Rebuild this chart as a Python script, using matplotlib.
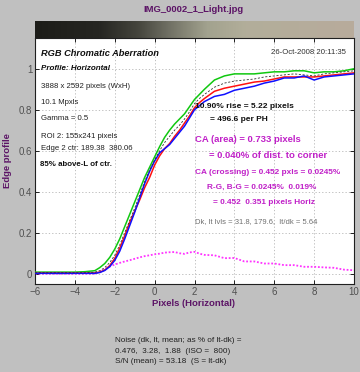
import numpy as np
import matplotlib
matplotlib.use("Agg")
import matplotlib.pyplot as plt
from matplotlib.colors import LinearSegmentedColormap

plt.rcParams['font.family'] = ['Liberation Sans', 'DejaVu Sans']

# ---- data ----
x = [-6, -5, -4, -3.5,
     -3, -2.75, -2.5, -2.25, -2, -1.75, -1.5, -1.25, -1, -0.75, -0.5, -0.25,
     0, 0.25, 0.5, 0.75, 1, 1.25, 1.5, 1.75, 2, 2.25, 2.5,
     3, 3.5, 4, 4.5, 5, 5.5, 6, 6.5, 7, 7.5, 8, 8.5, 9, 9.5, 10]

green = [0.008, 0.008, 0.008, 0.010,
         0.015, 0.03, 0.05, 0.08, 0.12, 0.17, 0.23, 0.29, 0.35, 0.41, 0.47, 0.52,
         0.57, 0.62, 0.665, 0.70, 0.73, 0.755, 0.78, 0.815, 0.85, 0.875, 0.90,
         0.945, 0.965, 0.975, 0.975, 0.975, 0.98, 0.985, 0.985, 0.99, 0.99, 0.98, 0.985, 0.985, 0.99, 1.0]

red = [0.003, 0.003, 0.003, 0.003,
       0.004, 0.008, 0.018, 0.04, 0.075, 0.125, 0.185, 0.25, 0.305, 0.36, 0.42, 0.47,
       0.53, 0.575, 0.61, 0.635, 0.67, 0.70, 0.735, 0.77, 0.81, 0.835, 0.855,
       0.89, 0.905, 0.915, 0.925, 0.935, 0.94, 0.95, 0.96, 0.96, 0.96, 0.96, 0.965, 0.97, 0.975, 0.98]

blue = [0.002, 0.002, 0.002, 0.002,
        0.002, 0.006, 0.016, 0.035, 0.065, 0.11, 0.17, 0.235, 0.30, 0.37, 0.44, 0.50,
        0.55, 0.59, 0.61, 0.63, 0.66, 0.69, 0.72, 0.76, 0.80, 0.82, 0.84,
        0.865, 0.875, 0.895, 0.905, 0.915, 0.93, 0.94, 0.955, 0.955, 0.965, 0.945, 0.96, 0.965, 0.97, 0.975]

mean_lum = [0.005, 0.005, 0.005, 0.005,
            0.008, 0.015, 0.03, 0.055, 0.09, 0.14, 0.20, 0.26, 0.32, 0.385, 0.45, 0.505,
            0.555, 0.60, 0.64, 0.67, 0.70, 0.725, 0.755, 0.79, 0.83, 0.855, 0.875,
            0.91, 0.93, 0.94, 0.945, 0.95, 0.96, 0.965, 0.97, 0.975, 0.97, 0.965, 0.975, 0.98, 0.985, 0.99]

diff = [0.0, 0.0, 0.0, 0.0,
        0.0, 0.01, 0.022, 0.035, 0.045, 0.053, 0.06, 0.066, 0.073, 0.08, 0.086, 0.09,
        0.095, 0.098, 0.103, 0.105, 0.106, 0.10, 0.097, 0.104, 0.107, 0.098, 0.092,
        0.09, 0.076, 0.077, 0.06, 0.06, 0.05, 0.05, 0.042, 0.042, 0.034, 0.034, 0.031, 0.029, 0.02, 0.017]

x_ticks = [-6, -4, -2, 0, 2, 4, 6, 8, 10]
y_ticks = [0, 0.2, 0.4, 0.6, 0.8, 1.0]
y_ticklabels = ['0', '0.2', '0.4', '0.6', '0.8', '1']

# gradient strip stops (position, colour)
grad_stops = [(0.0, '#1c1c18'), (0.20, '#262622'), (0.32, '#44443c'),
              (0.42, '#707064'), (0.54, '#a2a28e'), (0.66, '#b2ae9a'), (1.0, '#b8ab9c')]

PURPLE = '#5c1466'
MAGENTA = '#c020c8'

W, H = 360, 372
fig = plt.figure(figsize=(W / 100, H / 100), dpi=100, facecolor='#c0c0c0')


def P(px, py):
    # pixel position (from top-left) -> figure fraction
    return px / W, 1 - py / H


# gradient strip above the plot
gax = fig.add_axes([35 / W, 1 - 38 / H, 319 / W, 17 / H])
cmap = LinearSegmentedColormap.from_list('strip', grad_stops)
gax.imshow(np.linspace(0, 1, 256)[None, :], aspect='auto', cmap=cmap)
gax.set_axis_off()

ax = fig.add_axes([35 / W, 1 - 284 / H, 319 / W, 246 / H])
ax.set_facecolor('white')
ax.plot(x, diff, color='#ff33ff', lw=1.3, ls=(0, (1, 1)), zorder=2)
ax.plot(x, green, color='#10c810', lw=1.1, zorder=3)
ax.plot(x, red, color='#ff1010', lw=1.1, zorder=3)
ax.plot(x, blue, color='#1010ff', lw=1.1, zorder=4)
ax.plot(x, mean_lum, color='#303030', lw=0.6, ls=(0, (2.5, 2)), zorder=5)

ax.set_xlim(-6, 10)
ax.set_ylim(-0.05, 1.15)
ax.set_xticks(x_ticks)
ax.set_yticks(y_ticks)
ax.set_yticklabels(y_ticklabels)
ax.tick_params(direction='in', length=3, width=0.6, labelsize=7, colors='#000000',
               labelcolor='#505050', top=True, right=True, pad=2)
ax.grid(True, color='#b4b4b4', ls=(0, (1.5, 2.5)), lw=0.6)
for s in ax.spines.values():
    s.set_linewidth(0.8)
    s.set_color('#202020')

# titles and axis labels
fig.text(*P(193, 10), 'IMG_0002_1_Light.jpg', color=PURPLE, fontsize=6.8,
         fontweight='bold', ha='center', va='center')
fig.text(*P(194, 304), 'Pixels (Horizontal)', color=PURPLE, fontsize=6.8,
         fontweight='bold', ha='center', va='center')
fig.text(*P(8, 161), 'Edge profile', color=PURPLE, fontsize=6.8,
         fontweight='bold', ha='center', va='center', rotation=90)

# left block of annotations
fig.text(*P(41, 53), 'RGB Chromatic Aberration', fontsize=6.7, fontweight='bold',
         style='italic', va='center', color='#101010')
fig.text(*P(346, 53), '26-Oct-2008 20:11:35', fontsize=5.6, ha='right', va='center',
         color='#303030')
fig.text(*P(41, 69), 'Profile: Horizontal', fontsize=5.8, fontweight='bold',
         style='italic', va='center', color='#101010')
left_lines = [(87, '3888 x 2592 pixels (WxH)'), (103, '10.1 Mpxls'), (119, 'Gamma = 0.5'),
              (136, 'ROI 2: 155x241 pixels'), (148.5, 'Edge 2 ctr: 189.38  380.06')]
for yy, t in left_lines:
    fig.text(*P(41, yy), t, fontsize=5.6, va='center', color='#202020')
fig.text(*P(40, 164), '85% above-L of ctr.', fontsize=5.7, fontweight='bold',
         va='center', color='#101010')

# right block
fig.text(*P(195, 106), '10.90% rise = 5.22 pixels', fontsize=6.0, fontweight='bold',
         va='center', color='#101010')
fig.text(*P(210, 120), '= 496.6 per PH', fontsize=6.0, fontweight='bold',
         va='center', color='#101010')
fig.text(*P(195, 139), 'CA (area) = 0.733 pixels', fontsize=6.8, fontweight='bold',
         va='center', color=MAGENTA)
fig.text(*P(209, 155), '= 0.040% of dist. to corner', fontsize=6.8, fontweight='bold',
         va='center', color=MAGENTA)
fig.text(*P(195, 172), 'CA (crossing) = 0.452 pxls = 0.0245%', fontsize=5.95,
         fontweight='bold', va='center', color=MAGENTA)
fig.text(*P(207, 187), 'R-G, B-G = 0.0245%  0.019%', fontsize=5.95,
         fontweight='bold', va='center', color=MAGENTA)
fig.text(*P(213, 203), '= 0.452  0.351 pixels Horiz', fontsize=5.95,
         fontweight='bold', va='center', color=MAGENTA)
fig.text(*P(195, 222), 'Dk, lt lvls = 31.8, 179.6,  lt/dk = 5.64', fontsize=5.5,
         va='center', color='#707070')

# noise block under the plot
noise_lines = ['Noise (dk, lt, mean; as % of lt-dk) =',
               '0.476,  3.28,  1.88  (ISO =  800)',
               'S/N (mean) = 53.18  (S = lt-dk)']
for i, t in enumerate(noise_lines):
    fig.text(*P(115, 341 + 10.2 * i), t, fontsize=5.9, va='center', color='#202020')

fig.savefig('out.png', dpi=100, facecolor=fig.get_facecolor())
